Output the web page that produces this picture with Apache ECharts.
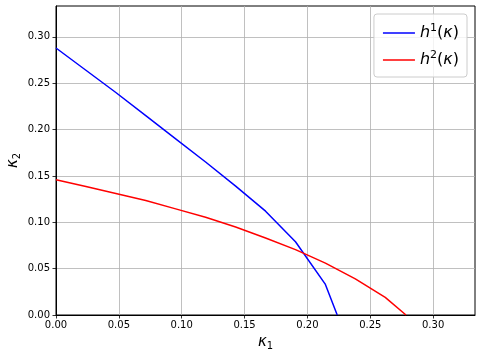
<!DOCTYPE html>
<html><head><meta charset="utf-8">
<script src="https://cdn.jsdelivr.net/npm/echarts@6/dist/echarts.min.js"></script>
<style>html,body{margin:0;padding:0;background:#fff}#c{width:481px;height:359px}</style>
</head><body><div id="c"></div>
<script>
// Data
var h1X = [0, 0.0238, 0.0476, 0.0714, 0.0952, 0.1190, 0.1429, 0.1667, 0.1905, 0.2143, 0.2237];
var h1Y = [0.288, 0.264, 0.240, 0.215, 0.190, 0.165, 0.139, 0.112, 0.079, 0.033, 0.000];
var h2X = [0, 0.0238, 0.0476, 0.0714, 0.0952, 0.1190, 0.1429, 0.1667, 0.1905, 0.2143, 0.2381, 0.2619, 0.2784];
var h2Y = [0.146, 0.1385, 0.131, 0.1235, 0.1145, 0.1055, 0.095, 0.083, 0.0705, 0.056, 0.039, 0.019, 0.000];
var xTicks = [0, 0.05, 0.10, 0.15, 0.20, 0.25, 0.30];
var yTicks = [0, 0.05, 0.10, 0.15, 0.20, 0.25, 0.30];
var axisMax = 0.3333;

function pairs(xs, ys){ return xs.map(function(x,i){ return [x, ys[i]]; }); }

var chart = echarts.init(document.getElementById('c'), null, {renderer:'canvas'});
var tickFont = {fontFamily:'DejaVu Sans', fontSize:10, color:'#000'};
function axisCommon(ticks){
  return {
    type:'value', min:0, max:axisMax, interval:0.05,
    axisLine:{show:true, onZero:false, lineStyle:{color:'#000', width:1}},
    axisTick:{show:true, length:3.5, customValues:ticks, lineStyle:{color:'#000', width:0.8}},
    axisLabel:Object.assign({customValues:ticks, formatter:function(v){return v.toFixed(2);}}, tickFont),
    splitLine:{show:true, lineStyle:{color:'#b0b0b0', width:0.8}}
  };
}
var xa = axisCommon(xTicks);
xa.axisLabel.margin = 5;
xa.name = '{k|κ}{s|1}';
xa.nameLocation = 'middle';
xa.nameGap = 19;
xa.nameMoveOverlap = false;
xa.nameTextStyle = {rich:{
  k:{fontFamily:'DejaVu Sans', fontStyle:'italic', fontSize:15, color:'#000'},
  s:{fontFamily:'DejaVu Sans', fontSize:10, color:'#000', padding:[7,0,0,0]}
}};
var ya = axisCommon(yTicks);
ya.axisLabel.margin = 6;
ya.name = '{k|κ}{s|2}';
ya.nameLocation = 'middle';
ya.nameGap = 34;
ya.nameMoveOverlap = false;
ya.nameRotate = 90;
ya.nameTextStyle = {rich:{
  k:{fontFamily:'DejaVu Sans', fontStyle:'italic', fontSize:15, color:'#000'},
  s:{fontFamily:'DejaVu Sans', fontSize:10, color:'#000', padding:[7,0,0,0]}
}};

var legRich = {
  i:{fontFamily:'DejaVu Sans', fontStyle:'italic', fontSize:16, color:'#000', lineHeight:20},
  n:{fontFamily:'DejaVu Sans', fontSize:16, color:'#000', lineHeight:20},
  sup:{fontFamily:'DejaVu Sans', fontSize:11, color:'#000', padding:[0,0,9,0]}
};

chart.setOption({
  animation:false,
  backgroundColor:'#fff',
  grid:{left:56, right:6, top:6, bottom:44, show:true, borderColor:'#000', borderWidth:1, containLabel:false, outerBoundsMode:'none'},
  xAxis:xa,
  yAxis:ya,
  legend:{
    orient:'vertical', right:14, top:14,
    padding:[9,8,9,9], itemWidth:32, itemHeight:1.6, itemGap:9,
    icon:'rect', itemTextGap:12,
    backgroundColor:'rgba(255,255,255,0.8)', borderColor:'#cccccc', borderWidth:1, borderRadius:3,
    data:['h1','h2'],
    formatter:function(name){
      var n = name === 'h1' ? '1' : '2';
      return '{i|h}{sup|' + n + '}{n|(}{i|κ}{n|)}';
    },
    textStyle:{rich:legRich}
  },
  series:[
    {name:'h1', type:'line', data:pairs(h1X,h1Y), showSymbol:false, symbol:'none', color:'#0000ff', lineStyle:{color:'#0000ff', width:1.5}},
    {name:'h2', type:'line', data:pairs(h2X,h2Y), showSymbol:false, symbol:'none', color:'#ff0000', lineStyle:{color:'#ff0000', width:1.5}}
  ]
});
</script></body></html>
